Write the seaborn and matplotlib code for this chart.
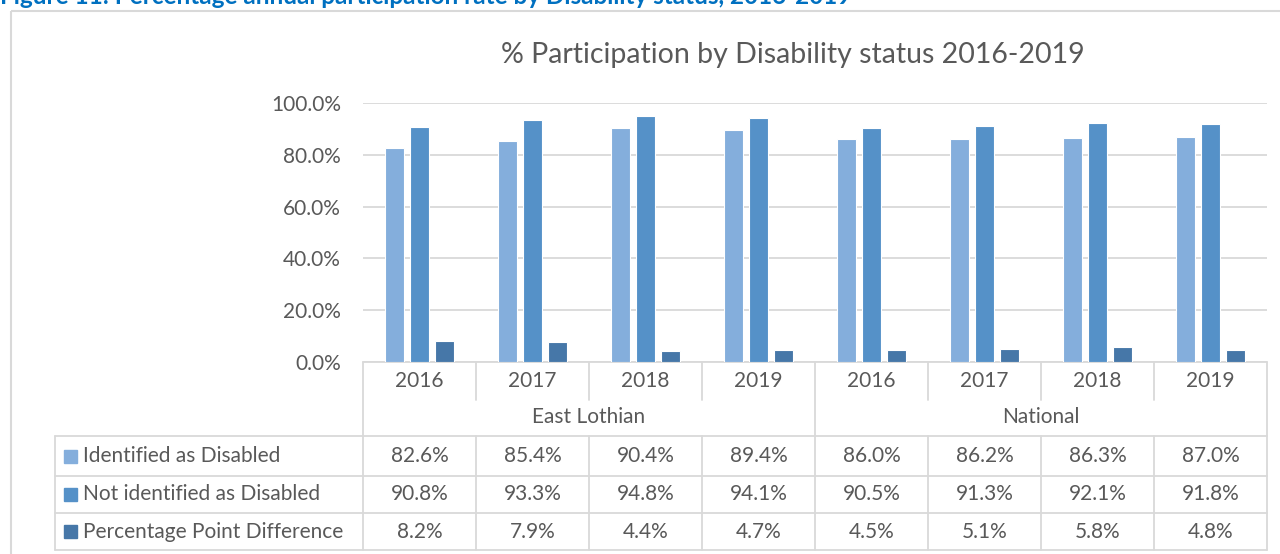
import pandas as pd
import matplotlib
matplotlib.use('Agg')
import matplotlib.pyplot as plt
import matplotlib.transforms as mtransforms
from matplotlib.patches import Rectangle
import seaborn as sns

# Chart data
groups = ['East Lothian', 'National']
years = ['2016', '2017', '2018', '2019']
series = ['Identified as Disabled', 'Not identified as Disabled', 'Percentage Point Difference']
identified = [82.6, 85.4, 90.4, 89.4, 86.0, 86.2, 86.3, 87.0]
not_identified = [90.8, 93.3, 94.8, 94.1, 90.5, 91.3, 92.1, 91.8]
difference = [8.2, 7.9, 4.4, 4.7, 4.5, 5.1, 5.8, 4.8]
y_ticks = [0, 20, 40, 60, 80, 100]

colors = ['#84AEDC', '#5591C8', '#4677A8']
text_color = '#595959'
line_color = '#D9D9D9'
fs = 15

cats = [f'{g} {y}' for g in groups for y in years]
rows = []
for s, vals in zip(series, [identified, not_identified, difference]):
    for c, v in zip(cats, vals):
        rows.append({'cat': c, 'series': s, 'value': v})
df = pd.DataFrame(rows)

sns.set_theme(style='white')
plt.rcParams['font.family'] = ['Lato', 'DejaVu Sans']

W, H = 1280, 554
fig = plt.figure(figsize=(W / 100, H / 100), dpi=100)

# overlay in pixel coordinates for the frame and the data table
ov = fig.add_axes([0, 0, 1, 1])
ov.set_xlim(0, W)
ov.set_ylim(H, 0)
ov.axis('off')
ov.add_patch(Rectangle((10.5, 10.5), 1400, 700, fill=False, ec=line_color, lw=1.5))

# caption above the chart (cut off at the top like the source)
fig.text(0.0, 1 - 4 / H, 'Figure 11: Percentage annual participation rate by Disability status, 2016-2019',
         color='#0070C0', fontsize=17.5, fontweight='bold', ha='left', va='baseline')

ax = fig.add_axes([363 / W, 1 - 362 / H, 904 / W, 259 / H])
ax.patch.set_visible(False)
sns.barplot(data=df, x='cat', y='value', hue='series', palette=colors, saturation=1,
            width=0.66, gap=0.23, edgecolor='white', linewidth=0.8, ax=ax, legend=False, zorder=3)
ax.set_xlim(-0.5, len(cats) - 0.5)
ax.set_ylim(0, 100)
ax.set_yticks(y_ticks)
ax.set_yticklabels([f'{t:.1f}%' for t in y_ticks], fontsize=fs, color=text_color)
ax.tick_params(axis='y', length=0, pad=16)
ax.set_xticks([])
ax.set_xlabel('')
ax.set_ylabel('')
ax.grid(axis='y', color=line_color, lw=1.3, zorder=0)
for sp in ax.spines.values():
    sp.set_visible(False)

ov.text(793, 55, '% Participation by Disability status 2016-2019', fontsize=20.5,
        color=text_color, ha='center', va='center')

# category axis table (x in category units, y in pixels)
tr = mtransforms.blended_transform_factory(ax.transData, ov.transData)
n = len(cats)
kw = dict(color=line_color, lw=1.3, transform=tr, clip_on=False)
ov.plot([-0.5, n - 0.5], [362, 362], **kw)
for i in range(n + 1):
    x = i - 0.5
    if i % len(years) == 0:
        ov.plot([x, x], [362, 550], **kw)
    else:
        ov.plot([x, x], [362, 400], **kw)
        ov.plot([x, x], [436, 550], **kw)
for i, lab in enumerate(years * len(groups)):
    ov.text(i, 381, lab, ha='center', va='center', fontsize=fs, color=text_color, transform=tr)
for g, name in enumerate(groups):
    xc = g * len(years) + (len(years) - 1) / 2
    ov.text(xc, 417, name, ha='center', va='center', fontsize=fs, color=text_color, transform=tr)

# data table rows
row_y = [436, 476, 513, 550]
for y in row_y:
    ov.plot([55, 1267], [y, y], color=line_color, lw=1.3)
ov.plot([55, 55], [436, 550], color=line_color, lw=1.3)
for r, (s, vals, col) in enumerate(zip(series, [identified, not_identified, difference], colors)):
    yc = (row_y[r] + row_y[r + 1]) / 2
    ov.add_patch(Rectangle((64, yc - 6.5), 13, 13, color=col))
    ov.text(83, yc, s, ha='left', va='center', fontsize=fs, color=text_color)
    for i, v in enumerate(vals):
        ov.text(i, yc, f'{v:.1f}%', ha='center', va='center', fontsize=fs, color=text_color, transform=tr)

fig.savefig('out.png', dpi=100)
